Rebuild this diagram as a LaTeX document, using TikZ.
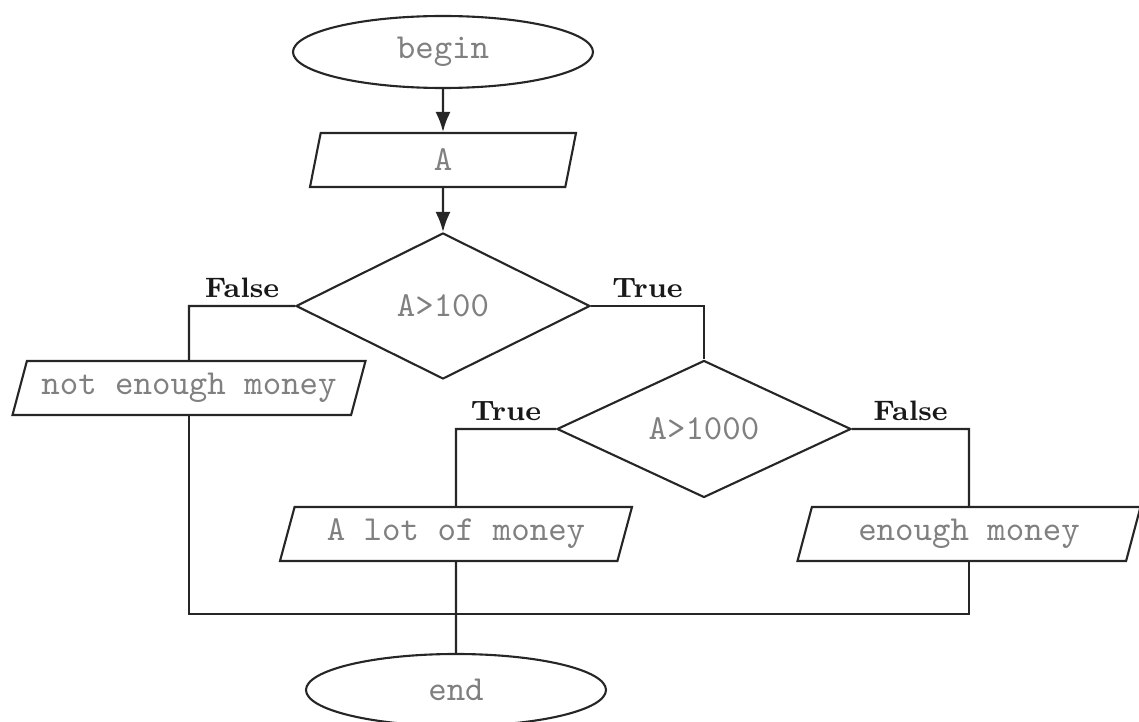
\documentclass[tikz,border=0pt]{standalone}
\usepackage{fontspec}
\usetikzlibrary{shapes.geometric,arrows.meta}

\begin{document}
\begin{tikzpicture}[
    semithick, draw=black!85,
    code/.style={text=black!50, font=\ttfamily\fontsize{10}{12}\selectfont},
    terminal/.style={code, ellipse, draw, minimum width=3cm, minimum height=0.72cm, inner sep=0pt},
    io/.style={code, trapezium, trapezium left angle=64, trapezium right angle=116,
      trapezium stretches body, draw, minimum height=0.54cm, inner sep=0pt},
    decision/.style={code, diamond, draw, minimum width=2.94cm, inner sep=0pt},
    branch/.style={font=\bfseries\fontsize{8}{9}\selectfont, text=black!90, inner sep=2pt},
    flow/.style={-{Latex[length=2mm,width=1.5mm]}}
  ]
  % Page frame
  \useasboundingbox (0,0) rectangle (11.39,-7.22);

  % Boxes
  \node[terminal] (begin) at (4.43,-0.52) {begin};
  \node[io, minimum width=2.66cm] (input) at (4.43,-1.60) {A};
  \node[decision, minimum height=1.46cm] (check1) at (4.43,-3.06) {A>100};
  \node[io, minimum width=3.53cm] (notenough) at (1.89,-3.88) {not enough money};
  \node[decision, minimum height=1.37cm] (check2) at (7.04,-4.29) {A>1000};
  \node[io, minimum width=3.52cm] (alot) at (4.56,-5.34) {A lot of money};
  \node[io, minimum width=3.43cm] (enough) at (9.69,-5.34) {enough money};
  \node[terminal] (end) at (4.56,-6.90) {end};

  % Arrows
  \draw[flow] (begin) -- (input);
  \draw[flow] (input) -- (check1);

  % Branches
  \draw (check1.west) -- node[branch, above] {False} (check1.west -| notenough) -- (notenough.north);
  \draw (check1.east) -- node[branch, above] {True} (check1.east -| check2.north) -- (check2.north);
  \draw (check2.west) -- node[branch, above] {True} (check2.west -| alot) -- (alot.north);
  \draw (check2.east) -- node[branch, above] {False} (check2.east -| enough) -- (enough.north);

  % Merge
  \coordinate (join) at (alot |- 0,-6.14);
  \draw (notenough.south) |- (join) -| (enough.south);
  \draw (alot.south) -- (end.north);
\end{tikzpicture}
\end{document}
